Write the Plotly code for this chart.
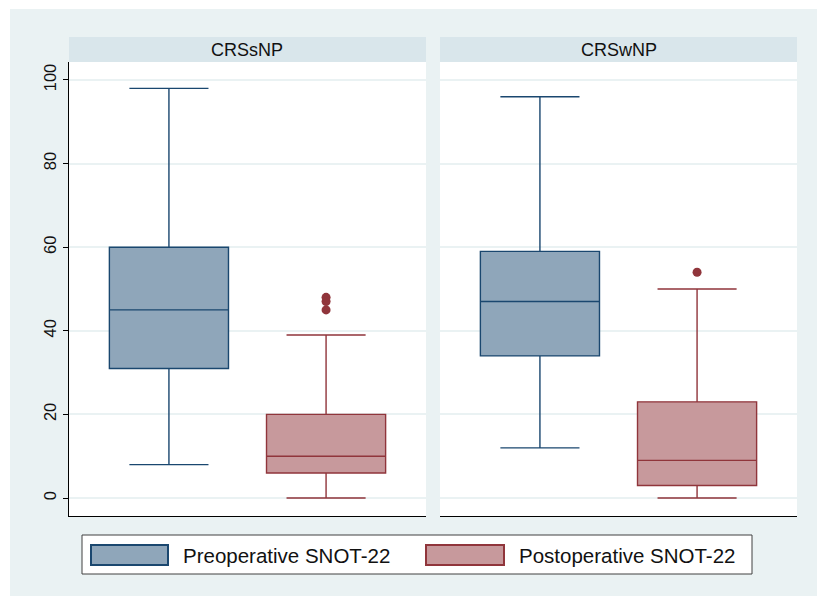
import plotly.graph_objects as go

# ---- data ----
panels = ["CRSsNP", "CRSwNP"]
groups = ["Preoperative SNOT-22", "Postoperative SNOT-22"]

pre_lower = [8, 12]
pre_q1 = [31, 34]
pre_median = [45, 47]
pre_q3 = [60, 59]
pre_upper = [98, 96]

post_lower = [0, 0]
post_q1 = [6, 3]
post_median = [10, 9]
post_q3 = [20, 23]
post_upper = [39, 50]

post_outliers = [[45, 47, 48], [54]]

y_ticks = [0, 20, 40, 60, 80, 100]

# ---- style ----
W, H = 817, 596
FONT = "Liberation Sans, Arial, sans-serif"
BG = "#EAF2F3"
STRIP = "#D9E6EB"
PRE_FILL = "#8FA6BA"
PRE_LINE = "#1A476F"
POST_FILL = "#C7999C"
POST_LINE = "#90353B"

def px(x):
    return x / W

def py(y):
    return 1 - y / H

x_domains = [[px(69), px(426)], [px(440), px(797)]]
y_domain = [py(516), py(62)]

fig = go.Figure()

series = [
    (pre_lower, pre_q1, pre_median, pre_q3, pre_upper, PRE_FILL, PRE_LINE, 0),
    (post_lower, post_q1, post_median, post_q3, post_upper, POST_FILL, POST_LINE, 1),
]

for p in range(2):
    xa = "x" if p == 0 else "x2"
    ya = "y" if p == 0 else "y2"
    for gi, (lo, q1, med, q3, up, fill, line, pos) in enumerate(series):
        fig.add_trace(go.Box(
            x=[pos], q1=[q1[p]], median=[med[p]], q3=[q3[p]],
            lowerfence=[lo[p]], upperfence=[up[p]],
            name=groups[gi], width=0.758, whiskerwidth=0.664,
            fillcolor=fill, line=dict(color=line, width=1.4),
            boxpoints=False, xaxis=xa, yaxis=ya, showlegend=False,
        ))
    fig.add_trace(go.Scatter(
        x=[1] * len(post_outliers[p]), y=post_outliers[p], mode="markers",
        marker=dict(color=POST_LINE, size=9), xaxis=xa, yaxis=ya, showlegend=False,
    ))

yr = [-4.3, 104.3]
xr = [-0.636, 1.636]
common_x = dict(range=xr, showgrid=False, zeroline=False, showticklabels=False,
                ticks="", showline=True, linecolor="black", linewidth=1, fixedrange=True)
fig.update_layout(
    width=W, height=H, margin=dict(l=0, r=0, t=0, b=0),
    paper_bgcolor=BG, plot_bgcolor="white",
    font=dict(family=FONT, color="black"),
    showlegend=False,
    xaxis=dict(domain=x_domains[0], anchor="y", **common_x),
    xaxis2=dict(domain=x_domains[1], anchor="y2", **common_x),
    yaxis=dict(domain=y_domain, anchor="x", range=yr, tickvals=y_ticks,
               tickangle=-90, ticks="outside", ticklen=5, tickcolor="black",
               showline=True, linecolor="black", linewidth=1,
               showgrid=True, gridcolor=BG, gridwidth=1.5, zeroline=False,
               tickfont=dict(size=16.5, family=FONT, color="#111111")),
    yaxis2=dict(domain=y_domain, anchor="x2", range=yr, tickvals=y_ticks,
                showticklabels=False, ticks="", showline=False,
                showgrid=True, gridcolor=BG, gridwidth=1.5, zeroline=False),
)

shapes = [
    # white outer margins (top and left)
    dict(type="rect", xref="paper", yref="paper", x0=0, x1=1, y0=py(9), y1=1,
         fillcolor="white", line=dict(width=0), layer="below"),
    dict(type="rect", xref="paper", yref="paper", x0=0, x1=px(10), y0=0, y1=1,
         fillcolor="white", line=dict(width=0), layer="below"),
]
annotations = []
for p in range(2):
    shapes.append(dict(type="rect", xref="paper", yref="paper",
                       x0=x_domains[p][0], x1=x_domains[p][1], y0=py(62), y1=py(37),
                       fillcolor=STRIP, line=dict(width=0)))
    annotations.append(dict(xref="paper", yref="paper",
                            x=(x_domains[p][0] + x_domains[p][1]) / 2, y=py(49.5),
                            text=panels[p], showarrow=False, xanchor="center", yanchor="middle",
                            font=dict(size=18, family=FONT, color="#111111")))

# legend box
shapes.append(dict(type="rect", xref="paper", yref="paper", x0=px(82), x1=px(752),
                   y0=py(574), y1=py(535), fillcolor="white",
                   line=dict(color="#404040", width=1)))
legend_items = [(91, 168, 181, PRE_FILL, PRE_LINE), (426, 504, 517, POST_FILL, POST_LINE)]
for gi, (sx0, sx1, tx, fill, line) in enumerate(legend_items):
    shapes.append(dict(type="rect", xref="paper", yref="paper", x0=px(sx0), x1=px(sx1),
                       y0=py(565), y1=py(545), fillcolor=fill,
                       line=dict(color=line, width=2)))
    annotations.append(dict(xref="paper", yref="paper", x=px(tx), y=py(555),
                            text=groups[gi], showarrow=False, xanchor="left", yanchor="middle",
                            font=dict(size=20.5, family=FONT, color="#111111")))

fig.update_layout(shapes=shapes, annotations=annotations)
fig.write_html("out.html", config={"displayModeBar": False},
               post_script="document.body.style.margin='0';document.body.style.overflow='hidden';")
